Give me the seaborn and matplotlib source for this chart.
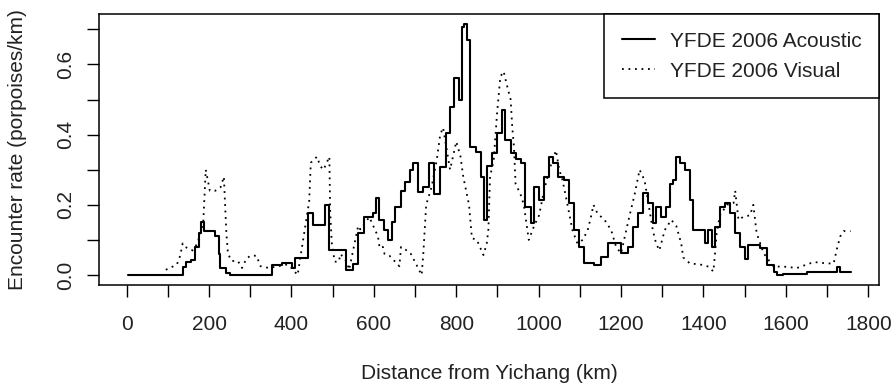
import matplotlib
matplotlib.use("Agg")
import matplotlib.pyplot as plt
import seaborn as sns
import pandas as pd

# Acoustic encounter rate (step profile along the river)
acoustic_km = [3, 136, 145, 155, 167, 175, 180, 188, 215, 223, 227, 240, 251,
               352, 377, 401, 409, 441, 453, 481, 491, 532, 549, 561, 577, 597,
               605, 613, 625, 635, 645, 651, 665, 676, 688, 696, 708, 720, 733,
               745, 761, 774, 786, 794, 806, 814, 820, 826, 833, 847, 859, 867,
               875, 887, 899, 911, 919, 932, 944, 956, 968, 981, 989, 1001, 1013,
               1026, 1034, 1046, 1062, 1074, 1086, 1099, 1111, 1135, 1151, 1168,
               1200, 1216, 1228, 1241, 1253, 1265, 1277, 1285, 1298, 1310, 1318,
               1326, 1334, 1343, 1355, 1367, 1375, 1396, 1404, 1412, 1420, 1428,
               1440, 1453, 1465, 1477, 1489, 1501, 1509, 1525, 1537, 1554, 1570,
               1578, 1594, 1651, 1724, 1732, 1757]
acoustic_rate = [0.0, 0.024, 0.037, 0.043, 0.08, 0.12, 0.152, 0.126, 0.11, 0.06,
                 0.02, 0.005, 0.0, 0.028, 0.035, 0.02, 0.048, 0.176, 0.142, 0.2,
                 0.07, 0.014, 0.03, 0.12, 0.166, 0.176, 0.218, 0.157, 0.128, 0.1,
                 0.15, 0.195, 0.24, 0.266, 0.3, 0.318, 0.237, 0.25, 0.318, 0.23,
                 0.309, 0.404, 0.48, 0.56, 0.5, 0.707, 0.715, 0.67, 0.366, 0.35,
                 0.28, 0.157, 0.31, 0.347, 0.404, 0.47, 0.385, 0.347, 0.33, 0.318,
                 0.195, 0.147, 0.25, 0.214, 0.28, 0.337, 0.318, 0.28, 0.27, 0.205,
                 0.128, 0.08, 0.033, 0.028, 0.05, 0.09, 0.062, 0.08, 0.137, 0.176,
                 0.233, 0.205, 0.147, 0.195, 0.166, 0.195, 0.26, 0.27, 0.337, 0.318,
                 0.3, 0.214, 0.128, 0.128, 0.09, 0.128, 0.08, 0.137, 0.195, 0.205,
                 0.176, 0.12, 0.08, 0.047, 0.085, 0.085, 0.076, 0.028, 0.01, 0.0,
                 0.003, 0.01, 0.024, 0.01, 0.01]

# Visual encounter rate
visual_km = [95, 105, 122, 130, 136, 142, 160, 172, 186, 192, 197, 202, 215, 228,
             236, 239, 242, 246, 255, 270, 280, 290, 300, 315, 325, 345, 390, 400,
             415, 443, 447, 462, 470, 478, 492, 494, 498, 505, 515, 519, 534, 540,
             562, 567, 589, 610, 614, 622, 626, 638, 650, 662, 666, 674, 690, 716,
             720, 727, 740, 753, 761, 768, 785, 800, 810, 817, 831, 838, 850, 866,
             874, 878, 882, 891, 899, 907, 915, 924, 932, 936, 940, 944, 956, 964,
             976, 989, 1001, 1013, 1026, 1042, 1050, 1058, 1070, 1082, 1094, 1107,
             1119, 1127, 1133, 1143, 1160, 1176, 1188, 1200, 1220, 1233, 1245,
             1257, 1265, 1277, 1285, 1293, 1306, 1322, 1334, 1346, 1351, 1367,
             1392, 1412, 1424, 1428, 1432, 1440, 1457, 1473, 1477, 1485, 1497,
             1513, 1521, 1529, 1546, 1570, 1594, 1627, 1668, 1700, 1716, 1724,
             1732, 1740, 1757]
visual_rate = [0.015, 0.02, 0.03, 0.055, 0.09, 0.08, 0.07, 0.09, 0.15, 0.3, 0.27,
               0.24, 0.24, 0.25, 0.28, 0.2, 0.12, 0.06, 0.04, 0.04, 0.02, 0.045,
               0.055, 0.055, 0.025, 0.02, 0.03, 0.02, 0.0, 0.21, 0.32, 0.337, 0.31,
               0.3, 0.337, 0.18, 0.09, 0.038, 0.038, 0.06, 0.038, 0.015, 0.14,
               0.13, 0.165, 0.11, 0.077, 0.08, 0.06, 0.055, 0.04, 0.025, 0.08,
               0.075, 0.06, 0.0, 0.06, 0.2, 0.25, 0.33, 0.4, 0.42, 0.3, 0.38,
               0.34, 0.28, 0.2, 0.105, 0.1, 0.057, 0.09, 0.13, 0.28, 0.328, 0.46,
               0.565, 0.58, 0.536, 0.5, 0.42, 0.366, 0.26, 0.23, 0.2, 0.1, 0.14,
               0.17, 0.24, 0.3, 0.355, 0.3, 0.27, 0.2, 0.128, 0.09, 0.1, 0.128,
               0.166, 0.2, 0.175, 0.157, 0.128, 0.08, 0.062, 0.166, 0.23, 0.3,
               0.27, 0.214, 0.128, 0.09, 0.07, 0.128, 0.157, 0.14, 0.09, 0.05,
               0.033, 0.03, 0.024, 0.01, 0.06, 0.12, 0.17, 0.2, 0.205, 0.24, 0.157,
               0.166, 0.17, 0.2, 0.12, 0.062, 0.024, 0.024, 0.02, 0.037, 0.033,
               0.033, 0.075, 0.11, 0.125, 0.125]

series_names = ["YFDE 2006 Acoustic", "YFDE 2006 Visual"]
x_ticks = list(range(0, 1801, 100))
x_labels = [str(v) if v % 200 == 0 else "" for v in x_ticks]
y_ticks = [0.0, 0.1, 0.2, 0.3, 0.4, 0.5, 0.6, 0.7]
y_labels = ["0.0", "", "0.2", "", "0.4", "", "0.6", ""]

acoustic = pd.DataFrame({"km": acoustic_km, "rate": acoustic_rate})
visual = pd.DataFrame({"km": visual_km, "rate": visual_rate})

sns.set_style("ticks")
plt.rcParams["font.family"] = ["Liberation Sans", "DejaVu Sans"]
plt.rcParams["font.size"] = 15

fig = plt.figure(figsize=(8.93, 3.85), dpi=100)
ax = fig.add_axes([0.1109, 0.2597, 0.8734, 0.7039])

sns.lineplot(data=acoustic, x="km", y="rate", ax=ax, color="black",
             linewidth=1.5, drawstyle="steps-post", label=series_names[0],
             estimator=None, sort=False)
sns.lineplot(data=visual, x="km", y="rate", ax=ax, color="black",
             linewidth=1.3, linestyle=(0, (1, 2.6)), label=series_names[1],
             estimator=None, sort=False)

ax.set_xlim(-67, 1826)
ax.set_ylim(-0.0285, 0.7436)
ax.set_xticks(x_ticks)
ax.set_xticklabels(x_labels)
ax.set_yticks(y_ticks)
ax.set_yticklabels(y_labels, rotation=90, va="center")
ax.tick_params(axis="both", length=8.5, width=1, color="black",
               labelsize=15, labelcolor="#222222")
ax.tick_params(axis="x", pad=13)
ax.tick_params(axis="y", pad=9)
for side in ax.spines.values():
    side.set_visible(True)
    side.set_linewidth(1.1)
    side.set_color("black")

ax.set_xlabel("Distance from Yichang (km)", fontsize=15, color="#222222",
              labelpad=22)
ax.set_ylabel("Encounter rate (porpoises/km)", fontsize=15, color="#222222",
              labelpad=21)

leg = ax.legend(loc="upper right", borderaxespad=0, fancybox=False,
                framealpha=1, edgecolor="black", fontsize=15,
                handlelength=1.6, handletextpad=0.7, borderpad=0.85,
                labelspacing=0.53)
leg.get_frame().set_linewidth(1.1)
for t in leg.get_texts():
    t.set_color("#222222")

fig.savefig("out.png", dpi=100, facecolor="white")
